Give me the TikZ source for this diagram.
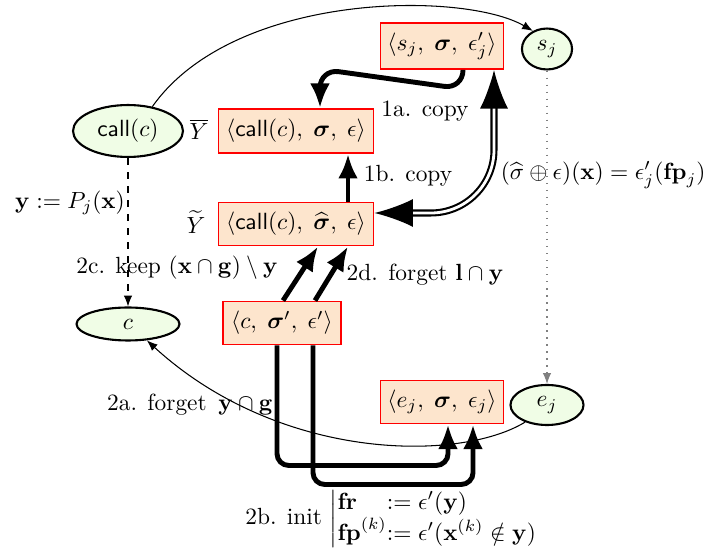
\documentclass[tikz,border=0pt]{standalone}
\usepackage{amsmath,amssymb}
\usetikzlibrary{arrows.meta,calc,shapes.geometric}
\definecolor{boxfill}{HTML}{FDE5CD}
\definecolor{ellfill}{HTML}{F0FDE6}
\begin{document}
\begin{tikzpicture}[x=0.4274pt,y=0.4274pt,
  statebox/.style={draw=red,fill=boxfill,line width=0.8pt,inner sep=2pt,minimum height=18.4pt},
  locell/.style={ellipse,draw=black,fill=ellfill,line width=0.9pt,inner sep=0pt},
  thinarr/.style={line width=0.45pt,-{Latex[length=4.6pt,width=3.6pt]}},
  thickarr/.style={line width=2.1pt,-{Latex[length=10.5pt,width=8.5pt]}},
  dblarr/.style={double,double distance=1.2pt,line width=0.9pt,{Latex[length=16.5pt,width=12pt]}-{Latex[length=16.5pt,width=12pt]}},
  lbl/.style={inner sep=1pt}]
\useasboundingbox (0,0) rectangle (712,-554);

% nodes
\node[statebox,minimum width=52.6pt,minimum height=19.7pt] (sjbox) at (442,-46) {$\langle s_j,\; \boldsymbol{\sigma},\; \epsilon'_j\rangle$};
\node[locell,minimum width=21.4pt,minimum height=17.5pt] (sj) at (547,-49) {$s_j$};
\node[locell,minimum width=47pt,minimum height=22.2pt] (call) at (128,-131) {$\mathsf{call}(c)$};
\node[statebox,minimum width=66.2pt,minimum height=18.8pt] (ybar) at (296,-131) {$\langle \mathsf{call}(c),\; \boldsymbol{\sigma},\; \epsilon\rangle$};
\node[statebox,minimum width=66.2pt] (ytilde) at (296,-224) {$\langle \mathsf{call}(c),\; \widehat{\boldsymbol{\sigma}},\; \epsilon\rangle$};
\node[locell,minimum width=44pt,minimum height=14.1pt] (c) at (128,-324) {$c$};
\node[statebox,minimum width=50.4pt] (cbox) at (282,-323) {$\langle c,\; \boldsymbol{\sigma}',\; \epsilon'\rangle$};
\node[statebox,minimum width=52.6pt] (ejbox) at (442,-402) {$\langle e_j,\; \boldsymbol{\sigma},\; \epsilon_j\rangle$};
\node[locell,minimum width=31.2pt,minimum height=17.1pt] (ej) at (547,-405) {$e_j$};

% labels
\node[lbl] (lybar) at (199,-129) {$\overline{Y}$};
\node[lbl] (lytilde) at (196,-222) {$\widetilde{Y}$};
\node[lbl] (l1a) at (425,-111) {1a. copy};
\node[lbl] (l1b) at (408,-176) {1b. copy};
\node[lbl,anchor=west] (lfp) at (498,-175) {$(\widehat{\sigma}\oplus\epsilon)(\mathbf{x})=\epsilon'_j(\mathbf{fp}_j)$};
\node[lbl] (lpj) at (70,-203) {$\mathbf{y}:=P_j(\mathbf{x})$};
\node[lbl] (l2c) at (177,-268) {2c. keep $(\mathbf{x}\cap\mathbf{g})\setminus\mathbf{y}$};
\node[lbl] (l2d) at (425,-275) {2d. forget $\mathbf{l}\cap\mathbf{y}$};
\node[lbl] (l2a) at (190,-405) {2a. forget~\,$\mathbf{y}\cap\mathbf{g}$};
\node[lbl] (l2b) at (392,-519) {2b. init $\left|\begin{array}{@{}l@{}l@{}}\mathbf{fr} & := \epsilon'(\mathbf{y})\\ \mathbf{fp}^{(k)} & := \epsilon'(\mathbf{x}^{(k)}\notin\mathbf{y})\end{array}\right.$};

% connectors
\draw[thinarr] (call.45) .. controls (234,9) and (464,9) .. (sj.128);
\draw[thickarr,rounded corners=8] ($(sjbox.south)+(21,0)$) -- ++(0,-19) -- ($(ybar.north)+(24,39)$) -- ($(ybar.north)+(24,0)$);
\draw[thickarr] ($(ytilde.north)+(52,0)$) -- ($(ybar.south)+(52,0)$);
\draw[dblarr,rounded corners=27pt] ($(sjbox.south)+(52,0)$) |- ($(ytilde.east)+(0,11)$);
\draw[thickarr] ($(cbox.north)+(1,0)$) -- ($(ytilde.south)+(22,0)$);
\draw[thickarr] ($(cbox.north)+(33,0)$) -- ($(ytilde.south)+(52,0)$);
\draw[thickarr,rounded corners=5pt] ($(cbox.south)+(-5,0)$) |- ($(ejbox.south)+(6,-41)$) -- ($(ejbox.south)+(6,0)$);
\draw[thickarr,rounded corners=5pt] ($(cbox.south)+(31,0)$) |- ($(ejbox.south)+(31,-60)$) -- ($(ejbox.south)+(31,0)$);
\draw[thinarr] (ej.218) .. controls (460,-462) and (280,-462) .. (c.-41);
\draw[thinarr,dashed] (call.south) -- (c.north);
\draw[thinarr,gray,dash pattern=on 0.6pt off 2.4pt] (sj.south) -- (ej.north);
\end{tikzpicture}
\end{document}
